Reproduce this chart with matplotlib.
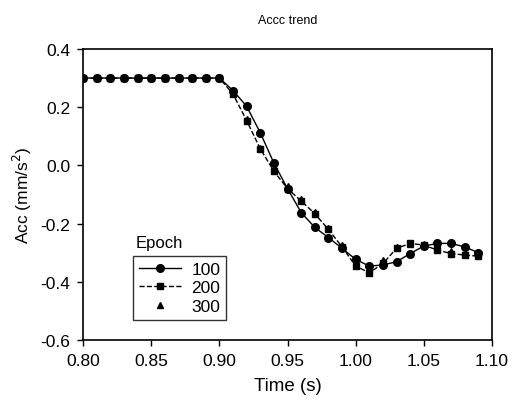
import numpy as np
import matplotlib
matplotlib.use("Agg")
import matplotlib.pyplot as plt

plt.rcParams["font.family"] = ["Liberation Sans", "DejaVu Sans"]

time = [0.80, 0.81, 0.82, 0.83, 0.84, 0.85, 0.86, 0.87, 0.88, 0.89, 0.90,
        0.91, 0.92, 0.93, 0.94, 0.95, 0.96, 0.97, 0.98, 0.99, 1.00,
        1.01, 1.02, 1.03, 1.04, 1.05, 1.06, 1.07, 1.08, 1.09]

acc_100 = [0.30, 0.30, 0.30, 0.30, 0.30, 0.30, 0.30, 0.30, 0.30, 0.30, 0.30,
           0.257, 0.203, 0.112, 0.008, -0.08, -0.162, -0.213, -0.248, -0.285, -0.323,
           -0.346, -0.342, -0.331, -0.303, -0.277, -0.268, -0.268, -0.280, -0.300]

acc_200 = [0.30, 0.30, 0.30, 0.30, 0.30, 0.30, 0.30, 0.30, 0.30, 0.30, 0.30,
           0.245, 0.154, 0.057, -0.02, -0.08, -0.122, -0.166, -0.22, -0.28, -0.346,
           -0.369, -0.337, -0.285, -0.268, -0.274, -0.291, -0.303, -0.308, -0.312]

acc_300 = [0.30, 0.30, 0.30, 0.30, 0.30, 0.30, 0.30, 0.30, 0.30, 0.30, 0.30,
           0.25, 0.16, 0.06, -0.01, -0.07, -0.114, -0.16, -0.215, -0.275, -0.34,
           -0.36, -0.325, -0.28, -0.27, -0.27, -0.27, -0.295, -0.305, -0.305]

xticks = [0.80, 0.85, 0.90, 0.95, 1.00, 1.05, 1.10]
yticks = [-0.6, -0.4, -0.2, 0.0, 0.2, 0.4]

fig = plt.figure(figsize=(5.13, 4.06), dpi=100)
ax = fig.add_axes([0.162, 0.16, 0.797, 0.717])

ax.plot(time, acc_100, color="black", linestyle="-", linewidth=1,
        marker="o", markersize=5.5, label="100")
ax.plot(time, acc_200, color="black", linestyle="--", linewidth=1,
        marker="s", markersize=5, label="200")
ax.plot(time, acc_300, color="black", linestyle="none",
        marker="^", markersize=4.5, label="300")

ax.set_xlim(0.80, 1.10)
ax.set_ylim(-0.6, 0.4)
ax.set_xticks(xticks)
ax.set_yticks(yticks)
ax.set_xticklabels(["%.2f" % v for v in xticks])
ax.set_yticklabels(["%.1f" % v for v in yticks])
ax.tick_params(direction="out", length=4, width=1, labelsize=12.5, pad=5,
               top=False, right=False)
for s in ax.spines.values():
    s.set_linewidth(1.2)

ax.set_xlabel("Time (s)", fontsize=13.5, labelpad=7)
ax.set_ylabel("Acc (mm/s$^2$)", fontsize=12.5, labelpad=5)
ax.set_title("Accc trend", fontsize=9, pad=19)

leg = ax.legend(loc="upper left", bbox_to_anchor=(0.122, 0.29),
                fontsize=12.5, frameon=True, fancybox=False,
                edgecolor="black", handlelength=2.4, borderpad=0.35,
                labelspacing=0.2, handletextpad=0.6, borderaxespad=0)
leg.get_frame().set_linewidth(1)
ax.text(0.128, 0.31, "Epoch", transform=ax.transAxes, fontsize=12,
        ha="left", va="bottom")

fig.savefig("out.png", dpi=100)
